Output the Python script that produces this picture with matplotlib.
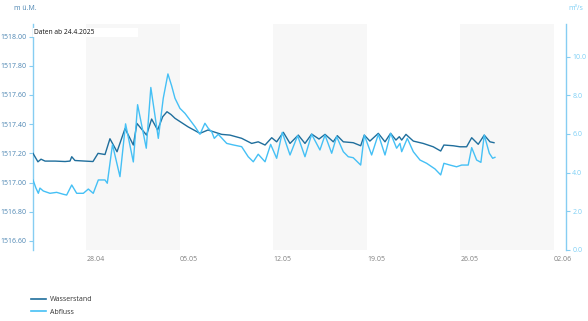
import numpy as np
import pandas as pd
import matplotlib
matplotlib.use("Agg")
import matplotlib.pyplot as plt
import matplotlib.dates as mdates
from matplotlib.lines import Line2D
from matplotlib.patches import Rectangle

plt.rcParams['font.family'] = ['Open Sans', 'DejaVu Sans']

START = "2025-04-24"

# Wasserstand (m ü.M.) — time as days since 24.04.2025 00:00
w_days = [0.00, 0.37, 0.60, 0.90, 1.65, 2.40, 2.77, 2.90, 3.14, 3.89, 4.49, 4.87, 5.39,
          5.76, 6.29, 6.89, 7.51, 7.78, 8.50, 8.88, 9.33, 9.71, 10.03, 10.33, 10.63,
          11.60, 12.50, 13.10, 14.12, 14.75, 15.62, 16.37, 16.86, 17.37, 17.87, 18.24,
          18.74, 19.24, 19.86, 20.36, 20.86, 21.41, 21.86, 22.48, 22.78, 23.23, 23.97,
          24.53, 24.80, 25.22, 25.85, 26.35, 26.77, 27.17, 27.42, 27.60, 27.92, 28.47,
          29.21, 29.96, 30.52, 30.76, 31.46, 31.96, 32.46, 32.84, 33.33, 33.78, 34.21, 34.51]
wasserstand = [1517.200, 1517.142, 1517.160, 1517.147, 1517.147, 1517.144, 1517.147, 1517.177,
               1517.151, 1517.147, 1517.144, 1517.200, 1517.192, 1517.300, 1517.211, 1517.370,
               1517.257, 1517.405, 1517.325, 1517.435, 1517.360, 1517.451, 1517.485, 1517.466,
               1517.440, 1517.382, 1517.337, 1517.360, 1517.330, 1517.325, 1517.303, 1517.268,
               1517.279, 1517.257, 1517.307, 1517.279, 1517.344, 1517.268, 1517.325, 1517.268,
               1517.332, 1517.298, 1517.330, 1517.279, 1517.321, 1517.279, 1517.273, 1517.252,
               1517.325, 1517.284, 1517.337, 1517.279, 1517.337, 1517.291, 1517.314, 1517.291,
               1517.330, 1517.284, 1517.268, 1517.245, 1517.216, 1517.257, 1517.252, 1517.245,
               1517.245, 1517.307, 1517.262, 1517.325, 1517.279, 1517.273]

# Abfluss (m³/s)
q_days = [0.00, 0.22, 0.40, 0.52, 0.77, 1.27, 1.77, 2.27, 2.52, 2.90, 3.27, 3.77, 4.14, 4.51,
          4.89, 5.39, 5.56, 5.95, 6.51, 6.93, 7.51, 7.83, 8.48, 8.82, 9.38, 9.75, 10.10,
          10.38, 10.63, 11.00, 11.38, 11.75, 12.13, 12.50, 12.87, 13.12, 13.38, 13.57,
          13.87, 14.50, 14.99, 15.62, 16.11, 16.49, 16.86, 17.37, 17.79, 18.24, 18.66,
          19.24, 19.81, 20.36, 20.86, 21.48, 21.86, 22.36, 22.73, 23.23, 23.60, 23.97,
          24.53, 24.80, 25.35, 25.85, 26.35, 26.77, 27.22, 27.47, 27.60, 28.02, 28.47,
          28.97, 29.47, 30.09, 30.52, 30.76, 31.21, 31.71, 32.09, 32.58, 32.84, 33.21,
          33.53, 33.78, 34.16, 34.41, 34.58]
abfluss = [3.62, 3.20, 2.93, 3.20, 3.05, 2.93, 2.98, 2.88, 2.84, 3.36, 2.93, 2.93, 3.15, 2.93,
           3.62, 3.62, 3.45, 5.45, 3.79, 6.52, 4.55, 7.51, 5.26, 8.40, 5.77, 7.84, 9.10,
           8.48, 7.84, 7.32, 7.06, 6.72, 6.37, 5.98, 6.55, 6.29, 6.11, 5.77,
           5.98, 5.51, 5.43, 5.34, 4.82, 4.56, 4.95, 4.56, 5.46, 4.74, 6.08,
           4.91, 5.91, 4.82, 5.98, 5.17, 5.94, 5.00, 5.86, 5.08, 4.82, 4.77,
           4.39, 5.94, 4.91, 5.98, 4.91, 6.03, 5.26, 5.51, 5.08, 5.77, 5.08,
           4.65, 4.48, 4.19, 3.88, 4.48, 4.39, 4.30, 4.39, 4.39, 5.29, 4.65,
           4.53, 5.94, 5.00, 4.74, 4.79]

tick_dates = ["2025-04-28", "2025-05-05", "2025-05-12", "2025-05-19", "2025-05-26", "2025-06-02"]
tick_labels = ["28.04", "05.05", "12.05", "19.05", "26.05", "02.06"]
bands = [("2025-04-28", "2025-05-05"), ("2025-05-12", "2025-05-19"), ("2025-05-26", "2025-06-02")]
left_ticks = [1516.6, 1516.8, 1517.0, 1517.2, 1517.4, 1517.6, 1517.8, 1518.0]
right_ticks = [0, 2, 4, 6, 8, 10]

start = pd.Timestamp(START)
w_t = start + pd.to_timedelta(w_days, unit="D")
q_t = start + pd.to_timedelta(q_days, unit="D")

C_DARK = "#1f6e9c"
C_LIGHT = "#45c0f5"
C_LEFT_TXT = "#4d86b3"
C_RIGHT_TXT = "#7dcff5"
C_SPINE = "#86cdf2"

fig = plt.figure(figsize=(5.88, 3.21), dpi=100)
ax = fig.add_axes([33/588, 1-250/321, (566-33)/588, 226/321])
ax2 = ax.twinx()

for a, b in bands:
    ax.axvspan(pd.Timestamp(a), pd.Timestamp(b), color="#f7f7f7", lw=0, zorder=0)

ax.plot(w_t, wasserstand, color=C_DARK, lw=1.0, zorder=3)
ax2.plot(q_t, abfluss, color=C_LIGHT, lw=1.0, zorder=3)

ax.set_xlim(start, start + pd.Timedelta(days=39.9))
ax.set_ylim(1516.538, 1518.086)
ax2.set_ylim(0, 11.68)

ax.set_yticks(left_ticks)
ax.set_yticklabels([f"{v:.2f}" for v in left_ticks])
ax2.set_yticks(right_ticks)
ax2.set_yticklabels([f"{v:.1f}" for v in right_ticks])

ax.set_xticks([pd.Timestamp(d) for d in tick_dates])
ax.set_xticklabels(tick_labels, ha="left")
ax.tick_params(axis="x", length=0, pad=4, labelsize=5, labelcolor="#808080")
ax.tick_params(axis="y", length=3, width=0.8, color=C_SPINE, labelsize=5, labelcolor=C_LEFT_TXT, pad=1.5)
ax2.tick_params(axis="y", length=3, width=0.8, color=C_SPINE, labelsize=5, labelcolor=C_RIGHT_TXT, pad=1.5)

for a in (ax, ax2):
    for s in ("top", "bottom"):
        a.spines[s].set_visible(False)
ax.spines["right"].set_visible(False)
ax2.spines["left"].set_visible(False)
ax.spines["left"].set_color(C_SPINE)
ax2.spines["right"].set_color(C_SPINE)
ax.spines["left"].set_linewidth(1.0)
ax2.spines["right"].set_linewidth(1.0)

# info box
ax.add_patch(Rectangle((0, 0.942), 0.197, 0.04, transform=ax.transAxes,
                       facecolor="white", edgecolor="none", zorder=4))
ax.text(0.002, 0.962, "Daten ab 24.4.2025", transform=ax.transAxes, fontsize=4.8,
        color="#111111", va="center", ha="left", zorder=5)

fig.text(14/588, 1-9/321, "m ü.M.", fontsize=5, color=C_LEFT_TXT, va="center", ha="left")
fig.text(568/588, 1-9/321, "m³/s", fontsize=5, color=C_RIGHT_TXT, va="center", ha="left")

handles = [Line2D([], [], color=C_DARK, lw=1.2), Line2D([], [], color=C_LIGHT, lw=1.2)]
fig.legend(handles, ["Wasserstand", "Abfluss"], loc="upper left",
           bbox_to_anchor=(31/588, 1-296/321), frameon=False, fontsize=5,
           handlelength=2.2, handletextpad=0.5, labelspacing=0.8, labelcolor="#333333",
           borderaxespad=0, borderpad=0)

fig.savefig("out.png", dpi=100)
